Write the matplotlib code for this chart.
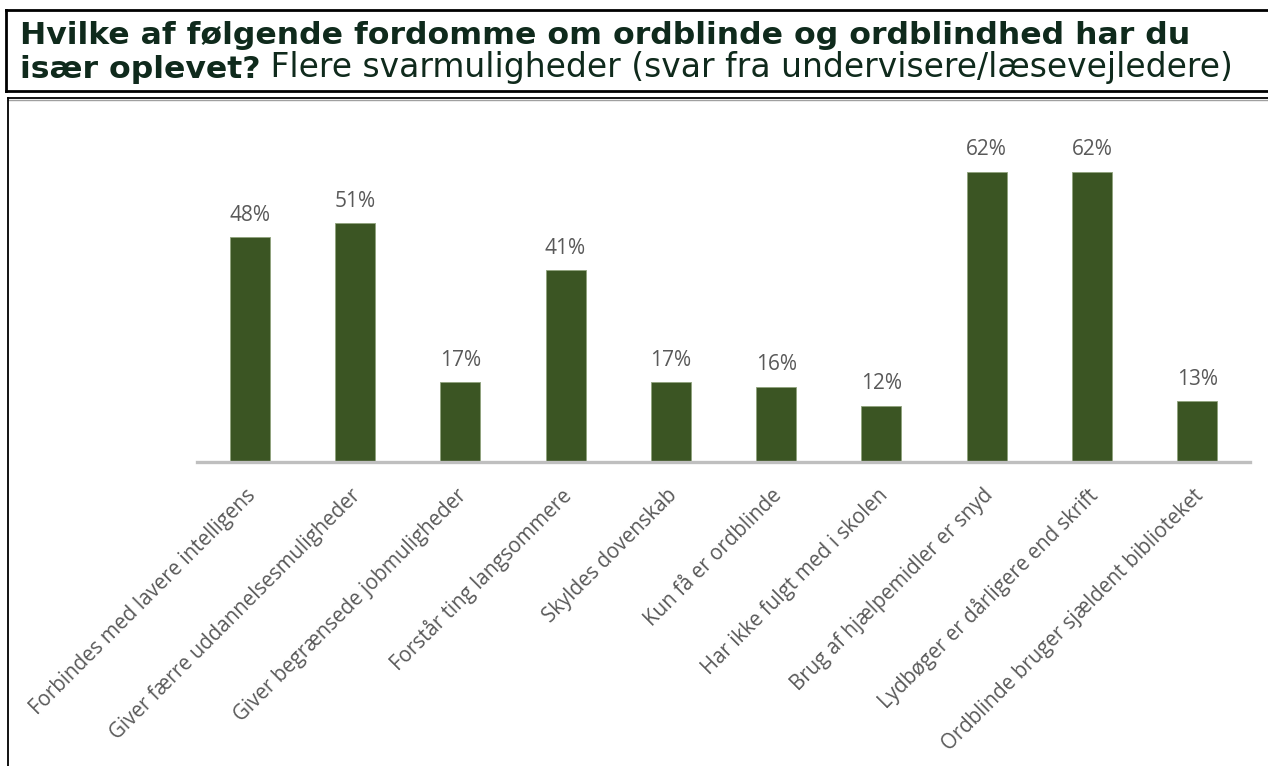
import matplotlib
matplotlib.use("Agg")
import matplotlib.pyplot as plt
from matplotlib.lines import Line2D
from matplotlib.transforms import ScaledTranslation

categories = [
    "Forbindes med lavere intelligens",
    "Giver færre uddannelsesmuligheder",
    "Giver begrænsede jobmuligheder",
    "Forstår ting langsommere",
    "Skyldes dovenskab",
    "Kun få er ordblinde",
    "Har ikke fulgt med i skolen",
    "Brug af hjælpemidler er snyd",
    "Lydbøger er dårligere end skrift",
    "Ordblinde bruger sjældent biblioteket",
]
values = [48, 51, 17, 41, 17, 16, 12, 62, 62, 13]
title_line1 = "Hvilke af følgende fordomme om ordblinde og ordblindhed har du"
title_bold2 = "især oplevet?"
title_rest2 = " Flere svarmuligheder (svar fra undervisere/læsevejledere)"

W, H = 1268, 766
fig = plt.figure(figsize=(W / 100, H / 100), dpi=100)
fig.patch.set_facecolor("white")

def fx(px):
    return px / W

def fy(py):
    return 1 - py / H

# Title box
lw_box = 2.0
fig.add_artist(Line2D([fx(6), fx(W + 5)], [fy(10), fy(10)], color="black", lw=lw_box))
fig.add_artist(Line2D([fx(6), fx(W + 5)], [fy(91), fy(91)], color="black", lw=lw_box))
fig.add_artist(Line2D([fx(6), fx(6)], [fy(10), fy(91)], color="black", lw=lw_box))
# Chart frame
fig.add_artist(Line2D([fx(8), fx(W + 5)], [fy(97.5), fy(97.5)], color="black", lw=1.3))
fig.add_artist(Line2D([fx(8), fx(W + 5)], [fy(99.5), fy(99.5)], color="#a0a0a0", lw=1.0))
fig.add_artist(Line2D([fx(8), fx(8)], [fy(97.5), fy(H + 5)], color="black", lw=1.3))

title_color = "#0f2a1c"
tfont = ["DejaVu Sans"]
renderer = fig.canvas.get_renderer()

def width_px(txt):
    return txt.get_window_extent(renderer=renderer).width

# line 1: fit width 20 -> 1184
base = 22.0
t1 = fig.text(fx(20), fy(43.5), title_line1, fontsize=base, fontweight="bold",
              family=tfont, color=title_color, va="baseline", ha="left")
s1 = base * (1184 - 20) / width_px(t1)
t1.set_fontsize(s1)
t2 = fig.text(fx(20), fy(77.5), title_bold2, fontsize=s1, fontweight="bold",
              family=tfont, color=title_color, va="baseline", ha="left")
x2 = t2.get_window_extent(renderer=renderer).x1
t3 = fig.text(x2 / W, fy(77.5), title_rest2, fontsize=base, fontweight="normal",
              family=tfont, color=title_color, va="baseline", ha="left")
s3 = base * (1229 - x2) / width_px(t3)
t3.set_fontsize(s3)

# Axes
ax_left, ax_right = 197, 1250
base_y = 462
px_per_unit = 290 / 62
ymax = 70
ax_h = ymax * px_per_unit
ax = fig.add_axes([fx(ax_left), fy(base_y), (ax_right - ax_left) / W, ax_h / H])
ax.set_facecolor("none")
x = list(range(len(categories)))
ax.bar(x, values, width=0.38, color="#3b5523", edgecolor="#8fa27c", linewidth=0.6, zorder=2)
ax.set_xlim(-0.5, len(categories) - 0.5)
ax.set_ylim(0, ymax)
for s in ["top", "right", "left"]:
    ax.spines[s].set_visible(False)
ax.spines["bottom"].set_color("#bfbfbf")
ax.spines["bottom"].set_linewidth(2.4)
ax.spines["bottom"].set_zorder(3)
ax.set_yticks([])
ax.set_xticks(x)
lab_font = "Open Sans"
lab_color = "#595959"
ax.set_xticklabels(categories, rotation=45, ha="right", va="center",
                   rotation_mode="anchor", fontsize=14.8, family=lab_font, color=lab_color)
ax.tick_params(axis="x", length=0, pad=22)
shift = ScaledTranslation(3 / 100, 0, fig.dpi_scale_trans)
for lab in ax.get_xticklabels():
    lab.set_transform(lab.get_transform() + shift)
for xi, v in zip(x, values):
    ax.annotate(f"{v}%", (xi, v), xytext=(0, 12), textcoords="offset points",
                ha="center", va="baseline", fontsize=15, family=lab_font, color=lab_color)

fig.savefig("out.png", dpi=100)
